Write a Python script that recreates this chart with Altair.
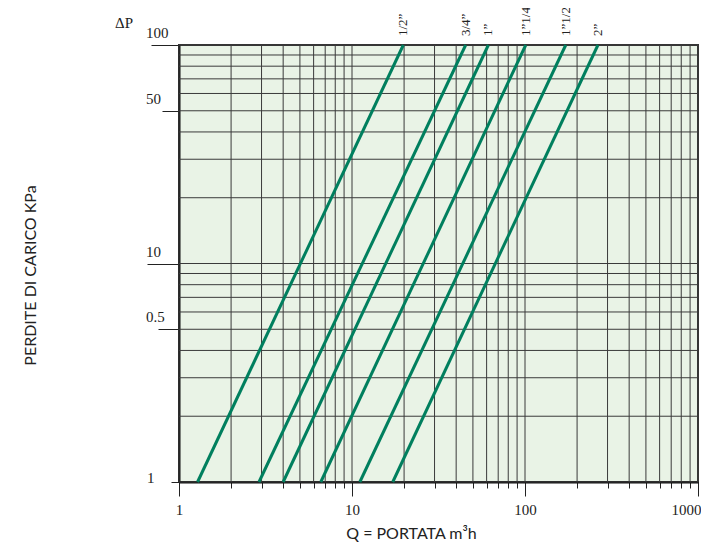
import altair as alt
import pandas as pd

# ---- data ----
sizes = ['1/2\u201d', '3/4\u201d', '1\u201d', '1\u201d1/4', '1\u201d1/2', '2\u201d']
q_at_dp1 = [1.28, 2.9, 4.0, 6.6, 11.1, 17.2]        # Q where ΔP = 1
q_at_dp100 = [19.8, 45.4, 61.4, 101.0, 172.0, 264.0]  # Q where ΔP = 100
dp_ends = [1, 100]

x_grid = [1, 2, 3, 4, 5, 6, 7, 8, 9,
          10, 20, 30, 40, 50, 60, 70, 80, 90,
          100, 200, 300, 400, 500, 600, 700, 800, 900, 1000]
y_grid = [1, 2, 3, 4, 5, 6, 7, 8, 9,
          10, 20, 30, 40, 50, 60, 70, 80, 90, 100]
x_decades = [1, 10, 100, 1000]
y_tick_values = [1, 5, 10, 50, 100]
y_tick_labels = ['1', '0.5', '10', '50', '100']

# ---- tables ----
rows = []
for s, a, b in zip(sizes, q_at_dp1, q_at_dp100):
    rows.append({'size': s, 'q': a, 'dp': dp_ends[0]})
    rows.append({'size': s, 'q': b, 'dp': dp_ends[1]})
lines_df = pd.DataFrame(rows)
labels_df = pd.DataFrame({'size': sizes, 'q': q_at_dp100})
xgrid_df = pd.DataFrame({'q': x_grid})
ygrid_df = pd.DataFrame({'dp': y_grid})
ylab_df = pd.DataFrame({'dp': y_tick_values, 't': y_tick_labels})
dp_title_df = pd.DataFrame({'t': ['\u0394P']})

GREEN = '#007f5e'
GRID = '#3a3a3a'
SERIF = 'Liberation Serif'
SANS = 'Lato'

x_scale = alt.Scale(type='log', domain=[1, 1000], nice=False)
y_scale = alt.Scale(type='log', domain=[1, 100], nice=False)

dec_test = "indexof([1, 10, 100, 1000], datum.value) >= 0"
x_axis = alt.Axis(
    values=x_grid, format='d',
    labelExpr=dec_test + " ? datum.label : ''",
    labelFont=SERIF, labelFontSize=15, labelColor='#222', labelPadding=6,
    labelFlush=False, labelOverlap=False,
    labelOffset={'condition': {'test': 'datum.value == 1000', 'value': -12}, 'value': 0},
    tickColor='#222', tickWidth=1,
    tickSize={'condition': {'test': dec_test, 'value': 14}, 'value': 6},
    domainColor='#111', domainWidth=2, grid=False,
    title='Q = PORTATA m\u00b3h', titleFont=SANS, titleFontSize=16,
    titleFontWeight='normal', titleColor='#222',
    titleX=232, titleY=51, titleAlign='center', titleBaseline='middle',
)
y_axis = alt.Axis(
    values=y_tick_values, labels=False,
    tickColor='#222', tickWidth=1,
    tickSize={'condition': [
        {'test': 'datum.value == 10', 'value': 32},
        {'test': 'datum.value == 100', 'value': 28},
        {'test': 'datum.value == 5', 'value': 21},
        {'test': 'datum.value == 50', 'value': 17},
    ], 'value': 8},
    domainColor='#111', domainWidth=2, grid=False,
    title='PERDITE DI CARICO KPa', titleFont=SANS, titleFontSize=16,
    titleFontWeight='normal', titleColor='#222',
    titleX=-149, titleY=230, titleAngle=270, titleAlign='center',
    titleBaseline='middle',
)

vgrid = alt.Chart(xgrid_df).mark_rule(color=GRID, strokeWidth=1).encode(
    x=alt.X('q:Q', scale=x_scale, axis=x_axis)
)
hgrid = alt.Chart(ygrid_df).mark_rule(color=GRID, strokeWidth=1).encode(
    y=alt.Y('dp:Q', scale=y_scale, axis=y_axis)
)
lines = alt.Chart(lines_df).mark_line(color=GREEN, strokeWidth=3).encode(
    x=alt.X('q:Q', scale=x_scale, axis=x_axis),
    y=alt.Y('dp:Q', scale=y_scale, axis=y_axis),
    detail='size:N',
)
top_labels = alt.Chart(labels_df).mark_text(
    angle=270, align='left', baseline='middle', font=SERIF, fontSize=13,
    color='#222'
).encode(
    x=alt.X('q:Q', scale=x_scale, axis=x_axis),
    y=alt.value(-9),
    text='size:N',
)
ylabels_main = alt.Chart(ylab_df).transform_filter('datum.dp != 1').mark_text(
    align='left', baseline='alphabetic', font=SERIF, fontSize=15, color='#222', dy=-7
).encode(
    x=alt.value(-33),
    y=alt.Y('dp:Q', scale=y_scale, axis=y_axis),
    text='t:N',
)
ylabels_one = alt.Chart(ylab_df).transform_filter('datum.dp == 1').mark_text(
    align='left', baseline='alphabetic', font=SERIF, fontSize=15, color='#222', dy=1
).encode(
    x=alt.value(-32),
    y=alt.Y('dp:Q', scale=y_scale, axis=y_axis),
    text='t:N',
)
dp_title = alt.Chart(dp_title_df).mark_text(
    align='left', baseline='alphabetic', font=SERIF, fontSize=15, color='#222'
).encode(
    x=alt.value(-64),
    y=alt.value(-17),
    text='t:N',
)

chart = alt.layer(
    vgrid, hgrid, lines, top_labels, ylabels_main, ylabels_one, dp_title
).properties(
    width=519, height=437,
    autosize=alt.AutoSizeParams(type='none'),
    padding={'left': 171, 'top': 37, 'right': 3, 'bottom': 62},
    background='white',
).configure_view(
    fill='#e9f3e6', stroke='#333', strokeWidth=2
)

chart.save('out.html', embed_options={'renderer': 'svg', 'actions': False})
